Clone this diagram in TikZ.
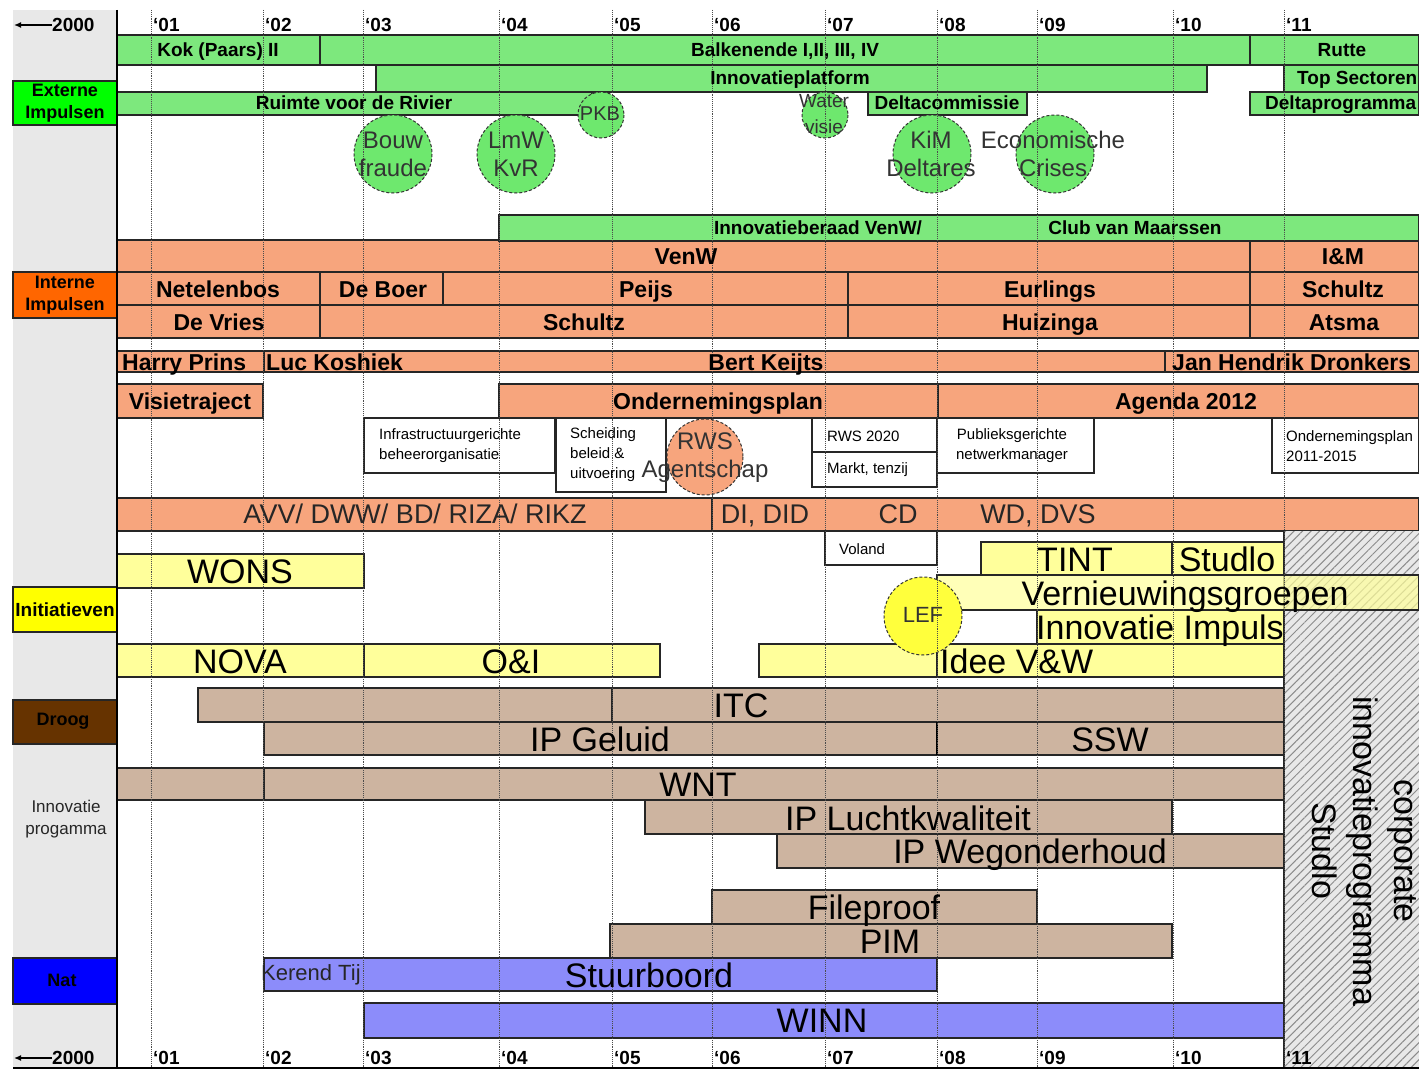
\documentclass[tikz,border=0pt]{standalone}
\usepackage{fontspec}
\setmainfont{Liberation Sans}
\usetikzlibrary{patterns.meta,arrows.meta}
\definecolor{gbar}{RGB}{125,232,125}
\definecolor{obar}{RGB}{247,165,125}
\definecolor{ybar}{RGB}{255,255,155}
\definecolor{bbar}{RGB}{205,180,160}
\definecolor{lbar}{RGB}{140,140,250}
\definecolor{gsolid}{RGB}{0,255,0}
\definecolor{osolid}{RGB}{255,102,0}
\definecolor{ysolid}{RGB}{255,255,0}
\definecolor{bsolid}{RGB}{102,51,0}
\definecolor{lsolid}{RGB}{0,0,255}
\definecolor{colgray}{RGB}{232,232,232}
\definecolor{gcirc}{RGB}{110,232,110}
\definecolor{ycirc}{RGB}{255,255,60}
\begin{document}
\begin{tikzpicture}[x=1pt,y=-1pt,
  bx/.style={draw=black!85,line width=1.2pt},
  gbx/.style={bx,fill=gbar}, obx/.style={bx,fill=obar}, ybx/.style={bx,fill=ybar},
  bbx/.style={bx,fill=bbar}, lbx/.style={bx,fill=lbar}, wbx/.style={bx,fill=white},
  circ/.style={draw=black!80,densely dashed,line width=1pt},
  gridl/.style={densely dotted,black!70,line width=0.9pt},
  tlab/.style={inner sep=0pt,font=\fontsize{18}{22}\selectfont\bfseries,align=center},
  tgr/.style={inner sep=0pt,font=\fontsize{19}{22}\selectfont\bfseries,text height=13.6pt,text depth=0pt},
  tor/.style={inner sep=0pt,font=\fontsize{23}{26}\selectfont\bfseries,text height=16.5pt,text depth=0pt},
  tbig/.style={inner sep=0pt,font=\fontsize{34}{41}\selectfont,text height=24.4pt,text depth=0pt},
  tmid/.style={inner sep=0pt,font=\fontsize{27}{30}\selectfont,text=black!85,text height=19.4pt,text depth=0pt},
  tcirc/.style={inner sep=0pt,font=\fontsize{24}{28}\selectfont,align=center,text=black!80},
  tsmall/.style={inner sep=0pt,font=\fontsize{15}{20}\selectfont,align=left},
  tyear/.style={inner sep=0pt,font=\fontsize{19}{20}\selectfont\bfseries,anchor=west,text height=13.6pt,text depth=0pt},
]
\useasboundingbox (0,0) rectangle (1419,1070);
\clip (0,0) rectangle (1419,1070);
\fill[white] (0,0) rectangle (1419,1070);
\fill[colgray] (13,10) rectangle (117,1068);

% ---------- left category boxes
\path[bx,fill=gsolid] (13,81) rectangle (117,125);
\node[tlab] (lbExt) at (65,103) {Externe\\Impulsen};
\path[bx,fill=osolid] (13,272) rectangle (117,318);
\node[tlab] (lbInt) at (65,295) {Interne\\Impulsen};
\path[bx,fill=ysolid] (13,587) rectangle (117,632);
\node[tlab,font=\fontsize{19}{22}\selectfont\bfseries] (lbIni) at (65,610) {Initiatieven};
\path[bx,fill=bsolid] (13,700) rectangle (117,744);
\node[tlab] (lbDroog) at (63,721) {Droog};
\node[inner sep=0pt,font=\fontsize{17}{22}\selectfont,align=center,text=black!85] (lbInnov) at (66,819) {Innovatie\\progamma};
\path[bx,fill=lsolid] (13,958) rectangle (117,1004);
\node[tlab] (lbNat) at (62,980) {Nat};

% ---------- green bars
\path[gbx] (117,35) rectangle (320,65);
\path[gbx] (320,35) rectangle (1250,65);
\path[gbx] (1250,35) rectangle (1419,65);
\path[bx] (117,65) -- (376,65);
\path[gbx] (376,65) rectangle (1207,92);
\path[gbx] (1284,65) rectangle (1419,92);
\path[gbx] (117,92) rectangle (592,115);
\path[gbx] (868,92) rectangle (1027,115);
\path[gbx] (1250,92) rectangle (1419,115);

% ---------- orange bars
\path[obx] (117,240) rectangle (1250,272);
\path[obx] (1250,240) rectangle (1419,272);
\path[gbx] (499,215) rectangle (1419,241);
\path[obx] (117,272) rectangle (320,305);
\path[obx] (320,272) rectangle (443,305);
\path[obx] (443,272) rectangle (848,305);
\path[obx] (848,272) rectangle (1250,305);
\path[obx] (1250,272) rectangle (1419,305);
\path[obx] (117,305) rectangle (320,338);
\path[obx] (320,305) rectangle (848,338);
\path[obx] (848,305) rectangle (1250,338);
\path[obx] (1250,305) rectangle (1419,338);
\path[obx] (117,351) rectangle (264,372);
\path[obx] (264,351) rectangle (1165,372);
\path[obx] (1165,351) rectangle (1419,372);
\path[obx] (117,384) rectangle (263,418);
\path[obx] (499,384) rectangle (938,418);
\path[obx] (938,384) rectangle (1419,418);
\path[obx] (117,498) rectangle (712,531);
\path[obx] (712,498) rectangle (1419,531);

% ---------- white boxes
\path[wbx] (364,418) rectangle (555,473);
\path[wbx] (556,418) rectangle (666,492);
\path[wbx] (812,418) rectangle (937,452);
\path[wbx] (812,452) rectangle (937,487);
\path[wbx] (937,418) rectangle (1094,473);
\path[wbx] (1272,418) rectangle (1419,473);
\path[wbx] (825,531) rectangle (937,565);

% ---------- circles (green + orange)
\path[circ,fill=gcirc] (393,154) circle (39);
\path[circ,fill=gcirc] (516,154) circle (39);
\path[circ,fill=gcirc] (601,115) circle (23);
\path[circ,fill=gcirc] (825,115) circle (23);
\path[circ,fill=gcirc] (932,154) circle (39);
\path[circ,fill=gcirc] (1055,154) circle (39);
\path[circ,fill=obar] (705,457) circle (38);

% ---------- hatched region
\path[fill=colgray] (1284,531) rectangle (1419,1068);
\path[pattern={Lines[angle=45,distance=6pt,line width=1pt]},pattern color=black!45] (1284,531) rectangle (1419,1068);
\draw[black!85,line width=1.2pt] (1284,531) -- (1284,1068);

% ---------- yellow bars
\path[ybx] (117,554) rectangle (364,588);
\path[ybx] (981,542) rectangle (1172,575);
\path[ybx] (1172,542) rectangle (1284,575);
\path[bx,fill=ybar,fill opacity=0.7] (937,575) rectangle (1419,610);
\path[ybx] (1037,610) rectangle (1284,644);
\path[ybx] (117,644) rectangle (364,677);
\path[ybx] (364,644) rectangle (660,677);
\path[ybx] (759,644) rectangle (937,677);
\path[ybx] (937,644) rectangle (1284,677);
\path[circ,fill=ycirc] (923,616) circle (39);

% ---------- brown bars
\path[bbx] (198,688) rectangle (612,722);
\path[bbx] (612,688) rectangle (1284,722);
\path[bbx] (264,722) rectangle (937,755);
\path[bbx] (937,722) rectangle (1284,755);
\draw[black,line width=2.5pt] (937,722) -- (937,755);
\path[bbx] (117,768) rectangle (1284,800);
\draw[black!85,line width=1.2pt] (264,768) -- (264,800);
\path[bbx] (645,800) rectangle (1172,834);
\path[bbx] (777,834) rectangle (1284,868);
\path[bbx] (712,890) rectangle (1037,924);
\path[bbx] (610,924) rectangle (1172,958);

% ---------- blue bars
\path[lbx] (264,958) rectangle (937,991);
\path[lbx] (364,1003) rectangle (1284,1038);

% ---------- frame and grid
\foreach \x in {151,263,363,499,612,712,825,937,1037,1173,1284}
  \draw[gridl] (\x,10) -- (\x,1068);
\draw[line width=1.6pt] (117,10) -- (117,1068);
\draw[line width=1.6pt] (13,1068) -- (1419,1068);

% ---------- year labels
\foreach \x/\l in {151/01,263/02,363/03,499/04,612/05,712/06,825/07,937/08,1037/09,1173/10,1284/11}{
  \node[tyear] (yt\l) at (\x+2,25) {‘\l};
  \node[tyear] (yb\l) at (\x+2,1058) {‘\l};
}
\node[tyear] (yt2000) at (52,25) {2000};
\node[tyear] (yb2000) at (52,1058) {2000};
\coordinate (arT) at (14,25);
\coordinate (arB) at (14,1058);
\draw[-{Latex[length=7pt,width=6pt]},line width=1.3pt] (yt2000.west) -- (arT);
\draw[-{Latex[length=7pt,width=6pt]},line width=1.3pt] (yb2000.west) -- (arB);

% ---------- green texts
\node[tgr] (tKok) at (218,50) {Kok (Paars) II};
\node[tgr] (tBalk) at (785,50) {Balkenende I,II, III, IV};
\node[tgr] (tRutte) at (1342,50) {Rutte};
\node[tgr] (tInnP) at (790,78) {Innovatieplatform};
\node[tgr,anchor=west] (tTop) at (1297,78) {Top Sectoren};
\node[tgr] (tRuimte) at (354,103) {Ruimte voor de Rivier};
\node[tgr] (tDeltaC) at (947,103) {Deltacommissie};
\node[tgr,anchor=west] (tDeltaP) at (1265,103) {Deltaprogramma};
\node[tgr] (tIBV) at (818,228) {Innovatieberaad VenW/};
\node[tgr] (tClub) at (1135,228) {Club van Maarssen};

\node[tcirc] (cBouw) at (393,154) {Bouw\\fraude};
\node[tcirc] (cLmW) at (516,154) {LmW\\KvR};
\node[tcirc,font=\fontsize{20}{22}\selectfont] (cPKB) at (600,114) {PKB};
\node[tcirc,font=\fontsize{19}{26}\selectfont] (cWater) at (824,114) {Water\\visie};
\node[tcirc] (cKiM) at (931,154) {KiM\\Deltares};
\node[tcirc] (cEco) at (1053,154) {Economische\\Crises};

% ---------- orange texts
\node[tor] (tVenW) at (686,256) {VenW};
\node[tor] (tIM) at (1343,256) {I\&M};
\node[tor] (tNet) at (218,289) {Netelenbos};
\node[tor] (tBoer) at (383,289) {De Boer};
\node[tor] (tPeijs) at (646,289) {Peijs};
\node[tor] (tEurl) at (1050,289) {Eurlings};
\node[tor] (tSchu2) at (1343,289) {Schultz};
\node[tor] (tVries) at (219,322) {De Vries};
\node[tor] (tSchu1) at (584,322) {Schultz};
\node[tor] (tHuiz) at (1050,322) {Huizinga};
\node[tor] (tAtsma) at (1344,322) {Atsma};
\node[tor,anchor=west] (tHarry) at (122,362) {Harry Prins};
\node[tor,anchor=west] (tLuc) at (266,362) {Luc Koshiek};
\node[tor] (tBert) at (766,362) {Bert Keijts};
\node[tor,anchor=west] (tJan) at (1172,362) {Jan Hendrik Dronkers};
\node[tor] (tVisie) at (190,401) {Visietraject};
\node[tor] (tOnd) at (718,401) {Ondernemingsplan};
\node[tor] (tAgenda) at (1186,401) {Agenda 2012};

\node[tsmall,anchor=west] (tInfra) at (379,446) {Infrastructuurgerichte\\beheerorganisatie};
\node[tsmall,anchor=west] (tSched) at (570,455) {Scheiding\\beleid \&\\uitvoering};
\node[tsmall,anchor=west] (tRWS20) at (827,436) {RWS 2020};
\node[tsmall,anchor=west] (tMarkt) at (827,470) {Markt, tenzij};
\node[tsmall,align=center] (tPubl) at (1012,446) {Publieksgerichte\\netwerkmanager};
\node[tsmall,anchor=west] (tOnd2) at (1286,446) {Ondernemingsplan\\2011-2015};
\node[tsmall,anchor=west] (tVoland) at (839,549) {Voland};
\node[tcirc] (cRWS) at (705,458) {RWS\\Agentschap};

\node[tmid] (tAVV) at (415,514) {AVV/ DWW/ BD/ RIZA/ RIKZ};
\node[tmid] (tDI) at (765,514) {DI, DID};
\node[tmid] (tCD) at (898,514) {CD};
\node[tmid] (tWD) at (1038,514) {WD, DVS};

% ---------- yellow texts
\node[tbig] (tWONS) at (240,571) {WONS};
\node[tbig] (tTINT) at (1075,559) {TINT};
\node[tbig] (tStud) at (1227,559) {Studlo};
\node[tbig] (tVern) at (1185,593) {Vernieuwingsgroepen};
\node[tbig] (tImp) at (1160,627) {Innovatie Impuls};
\node[tbig] (tNOVA) at (240,661) {NOVA};
\node[tbig] (tOI) at (511,661) {O\&I};
\node[tbig,anchor=west] (tIdee) at (940,661) {Idee V\&W};
\node[tcirc,font=\fontsize{22}{24}\selectfont] (cLEF) at (923,615) {LEF};

% ---------- brown texts
\node[tbig] (tITC) at (741,705) {ITC};
\node[tbig] (tGel) at (600,739) {IP Geluid};
\node[tbig] (tSSW) at (1110,739) {SSW};
\node[tbig] (tWNT) at (698,784) {WNT};
\node[tbig] (tLucht) at (908,818) {IP Luchtkwaliteit};
\node[tbig] (tWeg) at (1030,851) {IP Wegonderhoud};
\node[tbig] (tFile) at (874,907) {Fileproof};
\node[tbig] (tPIM) at (890,941) {PIM};

% ---------- blue texts
\node[tcirc,font=\fontsize{22}{24}\selectfont,anchor=west,text=black!85] (tKer) at (261,975) {Kerend Tij};
\node[tbig] (tStuur) at (649,975) {Stuurboord};
\node[tbig] (tWINN) at (822,1020) {WINN};

% ---------- rotated studio text
\node[inner sep=0pt,font=\fontsize{34}{41}\selectfont,rotate=-90,align=center] (tCorp) at (1364,851) {corporate\\innovatieprogramma\\Studlo};
\end{tikzpicture}
\end{document}
